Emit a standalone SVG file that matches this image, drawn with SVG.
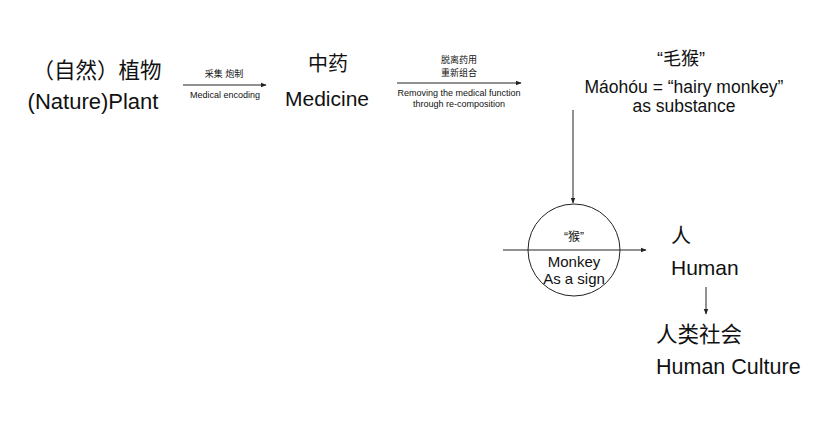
<svg xmlns="http://www.w3.org/2000/svg" width="827" height="441" viewBox="0 0 827 441">
<style>
text{font-family:"Liberation Sans","Noto Sans CJK SC",sans-serif;fill:#111;}
.big{font-size:21px;}
.mid{font-size:17.5px;}
.sm{font-size:9px;}
.line{stroke:#222;stroke-width:1;fill:none;}
</style>
<defs>
<marker id="ah" viewBox="0 0 10 10" refX="9" refY="5" markerWidth="6" markerHeight="6" orient="auto" markerUnits="userSpaceOnUse">
<path d="M0,1 L10,5 L0,9 z" fill="#222"/>
</marker>
</defs>
<rect width="827" height="441" fill="#fff"/>
<g id="connectors">
<line class="line" x1="183" y1="85" x2="266" y2="85" marker-end="url(#ah)"/>
<text class="sm" x="224" y="77" text-anchor="middle">采集 炮制</text>
<text class="sm" x="225" y="98" text-anchor="middle">Medical encoding</text>
<line class="line" x1="397" y1="83" x2="521" y2="83" marker-end="url(#ah)"/>
<text class="sm" x="459" y="63" text-anchor="middle">脱离药用</text>
<text class="sm" x="459" y="76" text-anchor="middle">重新组合</text>
<text class="sm" x="459" y="96" text-anchor="middle">Removing the medical function</text>
<text class="sm" x="459" y="107" text-anchor="middle">through re-composition</text>
<line class="line" x1="573" y1="110" x2="573" y2="203" marker-end="url(#ah)"/>
<line class="line" x1="503" y1="250" x2="646" y2="250" marker-end="url(#ah)"/>
<line class="line" x1="706" y1="287" x2="706" y2="314" marker-end="url(#ah)"/>
</g>
<g id="plant">
<text style="font-size:21.5px" x="97" y="78" text-anchor="middle">（自然）植物</text>
<text style="font-size:22px" x="93" y="109" text-anchor="middle">(Nature)Plant</text>
</g>
<g id="medicine">
<text style="font-size:20px" x="328" y="71" text-anchor="middle">中药</text>
<text class="big" x="327" y="106" text-anchor="middle">Medicine</text>
</g>
<g id="maohou">
<text style="font-size:18px" x="681" y="65" text-anchor="middle">“毛猴”</text>
<text class="mid" x="684" y="93" text-anchor="middle">Máohóu = “hairy monkey”</text>
<text class="mid" x="684" y="112" text-anchor="middle">as substance</text>
</g>
<g id="sign">
<circle cx="574" cy="250" r="46" class="line"/>
<text style="font-size:12px" x="574" y="241" text-anchor="middle">“猴”</text>
<text style="font-size:15px" x="574" y="267" text-anchor="middle">Monkey</text>
<text style="font-size:15px" x="574" y="284" text-anchor="middle">As a sign</text>
</g>
<g id="human">
<text style="font-size:20px" x="671" y="243">人</text>
<text class="big" x="671" y="275">Human</text>
</g>
<g id="culture">
<text style="font-size:21.5px" x="656" y="342">人类社会</text>
<text style="font-size:21.5px" x="656" y="374">Human Culture</text>
</g>
</svg>
